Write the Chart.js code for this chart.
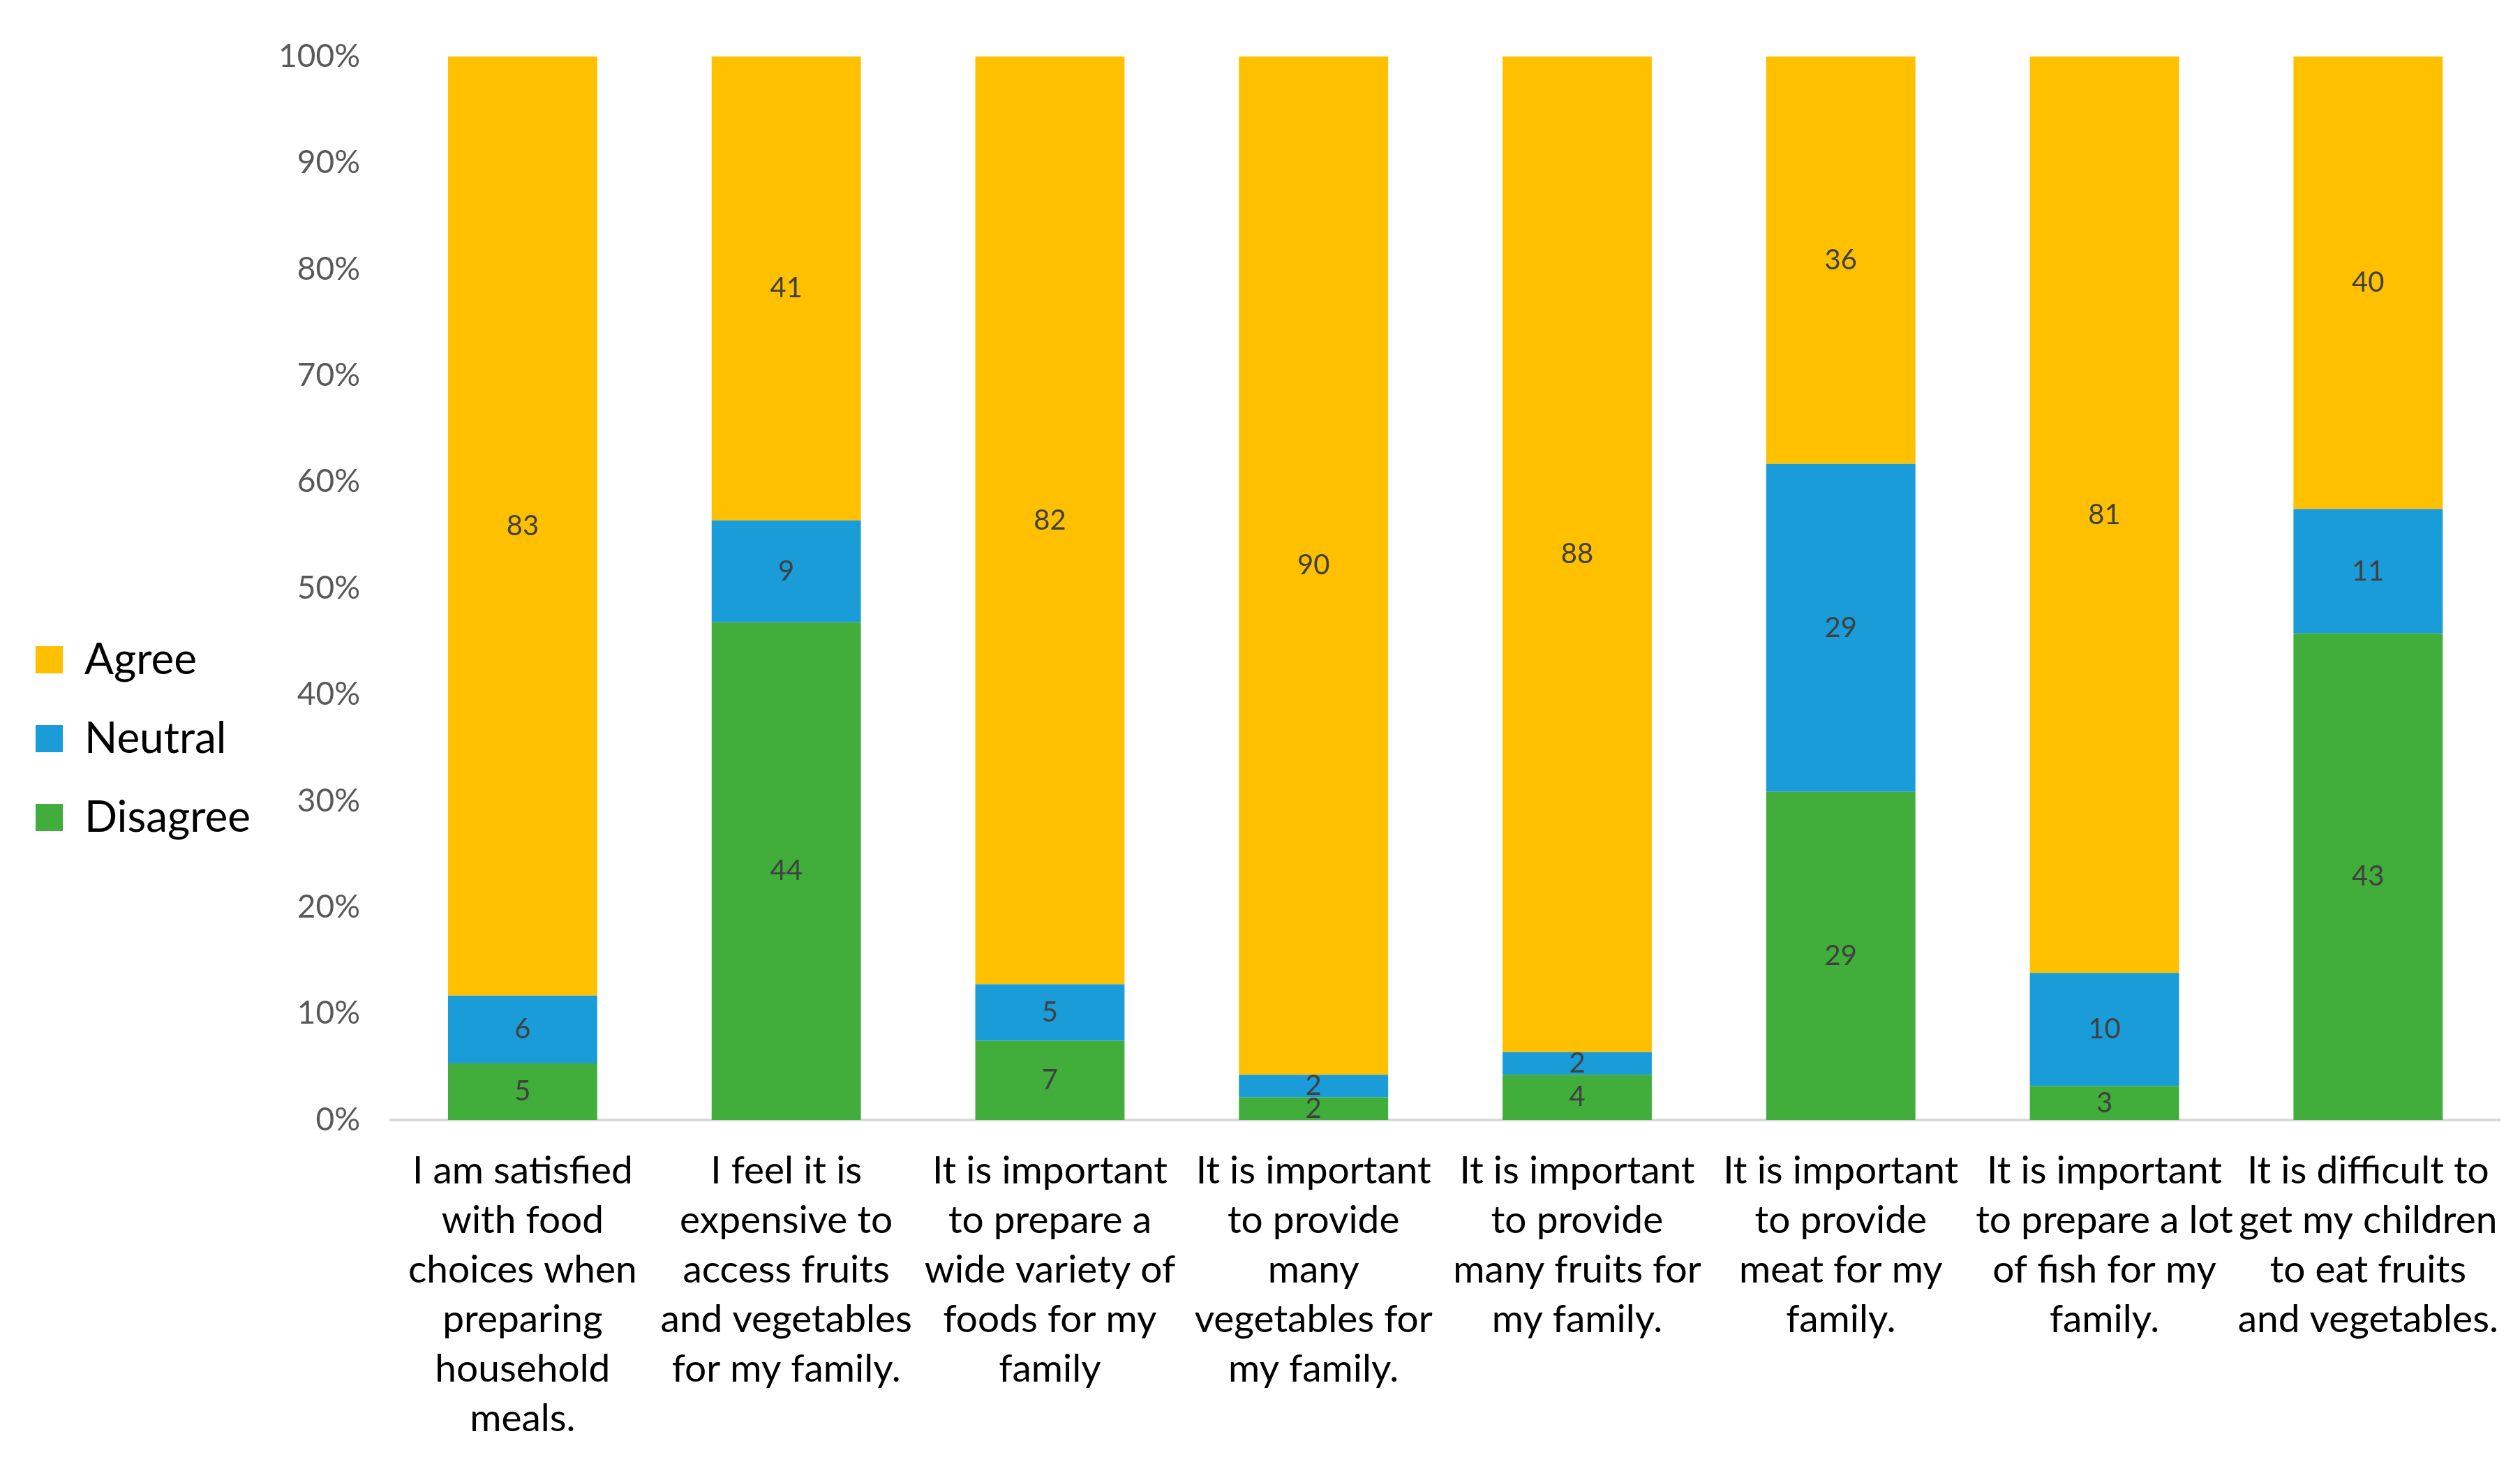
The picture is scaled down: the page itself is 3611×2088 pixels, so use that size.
<!DOCTYPE html>
<html>
<head>
<meta charset="utf-8">
<script src="https://cdn.jsdelivr.net/npm/chart.js@4/dist/chart.umd.min.js"></script>
<style>
  html, body { margin: 0; padding: 0; background: #fff; }
  #wrap { width: 3611px; height: 2088px; }
</style>
</head>
<body>
<div id="wrap"><canvas id="myChart"></canvas></div>
<script>
const statements = [
  ["I am satisfied", "with food", "choices when", "preparing", "household", "meals."],
  ["I feel it is", "expensive to", "access fruits", "and vegetables", "for my family."],
  ["It is important", "to prepare a", "wide variety of", "foods for my", "family"],
  ["It is important", "to provide", "many", "vegetables for", "my family."],
  ["It is important", "to provide", "many fruits for", "my family."],
  ["It is important", "to provide", "meat for my", "family."],
  ["It is important", "to prepare a lot", "of fish for my", "family."],
  ["It is difficult to", "get my children", "to eat fruits", "and vegetables."]
];

// answer counts per statement
const disagree = [5, 44, 7, 2, 4, 29, 3, 43];
const neutral = [6, 9, 5, 2, 2, 29, 10, 11];
const agree = [83, 41, 82, 90, 88, 36, 81, 40];

const yTicks = [0, 10, 20, 30, 40, 50, 60, 70, 80, 90, 100];

const totals = disagree.map((d, i) => d + neutral[i] + agree[i]);
function toPct(arr) {
  return arr.map((v, i) => (v / totals[i]) * 100);
}

const FONT = "Lato, 'Open Sans', sans-serif";

// writes the counts in the middle of each segment
const countLabels = {
  id: "countLabels",
  afterDatasetsDraw(chart) {
    const ctx = chart.ctx;
    ctx.save();
    ctx.font = "40px " + FONT;
    ctx.fillStyle = "#404040";
    ctx.textAlign = "center";
    ctx.textBaseline = "middle";
    chart.data.datasets.forEach((ds, di) => {
      const meta = chart.getDatasetMeta(di);
      meta.data.forEach((bar, i) => {
        const mid = (bar.y + bar.base) / 2;
        ctx.fillText(ds.counts[i], bar.x, mid);
      });
    });
    ctx.restore();
  }
};

// legend sits a bit above the middle of the picture
const legendNudge = {
  id: "legendNudge",
  afterLayout(chart) {
    const lg = chart.legend;
    if (!lg) return;
    lg.top -= 26;
    lg.bottom -= 26;
  }
};

const data = {
  labels: statements,
  datasets: [
    {
      label: "Disagree",
      data: toPct(disagree),
      counts: disagree,
      backgroundColor: "#41AD3B"
    },
    {
      label: "Neutral",
      data: toPct(neutral),
      counts: neutral,
      backgroundColor: "#1A9CD8"
    },
    {
      label: "Agree",
      data: toPct(agree),
      counts: agree,
      backgroundColor: "#FFC000"
    }
  ]
};

const config = {
  type: "bar",
  data: data,
  plugins: [countLabels, legendNudge],
  options: {
    responsive: true,
    maintainAspectRatio: false,
    devicePixelRatio: 1,
    animation: false,
    layout: { padding: { top: 81, right: 17, left: 0, bottom: 0 } },
    datasets: {
      bar: { barPercentage: 0.566, categoryPercentage: 1 }
    },
    plugins: {
      tooltip: { enabled: false },
      legend: {
        position: "left",
        reverse: true,
        labels: {
          boxWidth: 39,
          boxHeight: 39,
          padding: 51,
          color: "#000",
          font: { family: FONT, size: 62 }
        }
      }
    },
    scales: {
      x: {
        stacked: true,
        grid: { display: false },
        border: { display: true, color: "#D9D9D9", width: 4 },
        ticks: {
          autoSkip: false,
          maxRotation: 0,
          minRotation: 0,
          padding: 30,
          color: "#000",
          font: { family: FONT, size: 55, lineHeight: 1.29 }
        },
        afterFit: (s) => { s.height = 483; }
      },
      y: {
        stacked: true,
        min: 0,
        max: 100,
        afterBuildTicks: (s) => { s.ticks = yTicks.map((v) => ({ value: v })); },
        afterFit: (s) => {
          const lg = s.chart.legend;
          if (lg && lg.width) s.width = 560 - lg.width;
        },
        grid: { display: false },
        border: { display: false },
        ticks: {
          padding: 36,
          color: "#595959",
          font: { family: FONT, size: 46 },
          callback: (v) => v + "%"
        }
      }
    }
  }
};

new Chart(document.getElementById("myChart"), config);
</script>
</body>
</html>
